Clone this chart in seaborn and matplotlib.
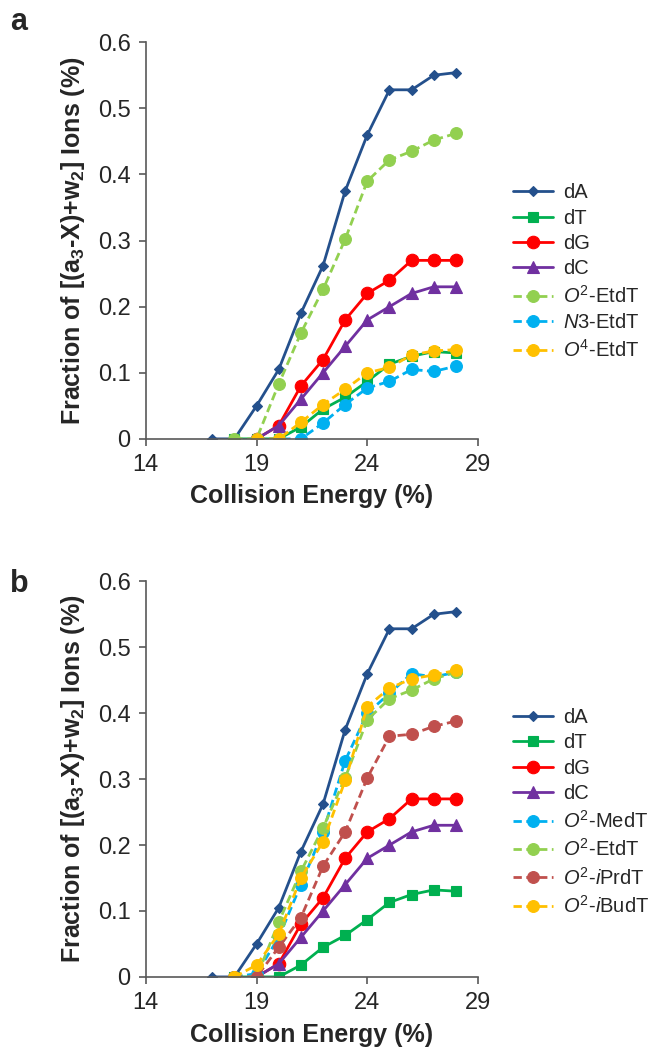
import pandas as pd
import seaborn as sns
import matplotlib.pyplot as plt

# collision energies (%)
ce_all = [17, 18, 19, 20, 21, 22, 23, 24, 25, 26, 27, 28]

dA = [0, 0, 0.05, 0.105, 0.19, 0.262, 0.375, 0.46, 0.528, 0.528, 0.55, 0.554]
dT = [None, 0, 0, 0, 0.018, 0.045, 0.063, 0.087, 0.113, 0.125, 0.132, 0.13]
dG = [None, None, 0, 0.02, 0.08, 0.12, 0.18, 0.22, 0.24, 0.27, 0.27, 0.27]
dC = [None, None, 0, 0.02, 0.06, 0.10, 0.14, 0.18, 0.20, 0.22, 0.23, 0.23]
o2_etdt = [None, 0, 0, 0.083, 0.16, 0.226, 0.302, 0.39, 0.422, 0.435, 0.452, 0.462]
n3_etdt = [None, None, 0, 0, 0, 0.024, 0.052, 0.077, 0.087, 0.105, 0.102, 0.11]
o4_etdt = [None, None, 0, 0, 0.025, 0.052, 0.075, 0.10, 0.108, 0.127, 0.133, 0.135]
o2_medt = [None, 0, 0.005, 0.06, 0.14, 0.22, 0.328, 0.40, 0.43, 0.46, 0.455, 0.462]
o2_iprdt = [None, 0, 0, 0.045, 0.09, 0.168, 0.22, 0.302, 0.365, 0.368, 0.38, 0.388]
o2_ibudt = [None, 0, 0.018, 0.065, 0.15, 0.205, 0.298, 0.41, 0.438, 0.452, 0.458, 0.465]

y_ticks = [0, 0.1, 0.2, 0.3, 0.4, 0.5, 0.6]
y_ticklabels = ["0", "0.1", "0.2", "0.3", "0.4", "0.5", "0.6"]
x_ticks = [14, 19, 24, 29]

sns.set_style("white")
plt.rcParams.update({
    'font.family': ['Liberation Sans', 'DejaVu Sans'],
    'mathtext.fontset': 'custom',
    'mathtext.rm': 'Liberation Sans',
    'mathtext.it': 'Liberation Sans:italic',
    'mathtext.bf': 'Liberation Sans:bold',
})

# name, values, color, marker, size, dashed
nucleosides = [
    ("dA", dA, "#24508C", "D", 5.5, False),
    ("dT", dT, "#00B050", "s", 7.5, False),
    ("dG", dG, "#FF0000", "o", 9, False),
    ("dC", dC, "#7030A0", "^", 9, False),
]
painel_a = nucleosides + [
    (r"$\mathit{O}^{\mathrm{2}}$-EtdT", o2_etdt, "#92D050", "o", 8.5, True),
    (r"$\mathit{N}$3-EtdT", n3_etdt, "#00B0F0", "o", 8.5, True),
    (r"$\mathit{O}^{\mathrm{4}}$-EtdT", o4_etdt, "#FFC000", "o", 8.5, True),
]
painel_b = nucleosides + [
    (r"$\mathit{O}^{\mathrm{2}}$-MedT", o2_medt, "#00B0F0", "o", 8.5, True),
    (r"$\mathit{O}^{\mathrm{2}}$-EtdT", o2_etdt, "#92D050", "o", 8.5, True),
    (r"$\mathit{O}^{\mathrm{2}}$-$\mathit{i}$PrdT", o2_iprdt, "#C0504D", "o", 8.5, True),
    (r"$\mathit{O}^{\mathrm{2}}$-$\mathit{i}$BudT", o2_ibudt, "#FFC000", "o", 8.5, True),
]

fig = plt.figure(figsize=(6.54, 10.55), dpi=100)
ax_a = fig.add_axes([0.223, 0.584, 0.508, 0.376])
ax_b = fig.add_axes([0.223, 0.074, 0.508, 0.375])


def desenhar(ax, series, legend_y):
    for nome, vals, cor, mk, ms, tracejado in series:
        df = pd.DataFrame({'ce': ce_all, 'frac': vals}).dropna()
        sns.lineplot(data=df, x='ce', y='frac', ax=ax, color=cor, marker=mk,
                     markersize=ms, markeredgecolor=cor, markeredgewidth=0.8,
                     linewidth=2.0, linestyle=(0, (3, 1.6)) if tracejado else '-',
                     label=nome)
    ax.set_xlim(14, 29)
    ax.set_ylim(0, 0.6)
    ax.set_xticks(x_ticks)
    ax.set_yticks(y_ticks)
    ax.set_yticklabels(y_ticklabels)
    ax.tick_params(axis='both', labelsize=17, length=5, width=1.2, color='#595959',
                   direction='out', left=True, bottom=True, pad=6)
    for lado in ['top', 'right']:
        ax.spines[lado].set_visible(False)
    for lado in ['left', 'bottom']:
        ax.spines[lado].set_color('#595959')
        ax.spines[lado].set_linewidth(1.2)
    ax.set_xlabel('Collision Energy (%)', fontsize=18, fontweight='bold', labelpad=6)
    ax.set_ylabel(r'Fraction of [(a$_\mathbf{3}$-X)+w$_\mathbf{2}$] Ions (%)',
                  fontsize=18, fontweight='bold', labelpad=8)
    # legend to the right of the axes
    ax.legend(loc='upper left', bbox_to_anchor=(1.08, legend_y), frameon=False,
              fontsize=14.5, handlelength=2.0, handletextpad=0.5, labelspacing=0.32,
              borderaxespad=0)


desenhar(ax_a, painel_a, 0.665)
desenhar(ax_b, painel_b, 0.70)

fig.text(0.016, 0.972, 'a', fontsize=22, fontweight='bold')
fig.text(0.016, 0.439, 'b', fontsize=22, fontweight='bold')

plt.savefig('out.png', dpi=100)
